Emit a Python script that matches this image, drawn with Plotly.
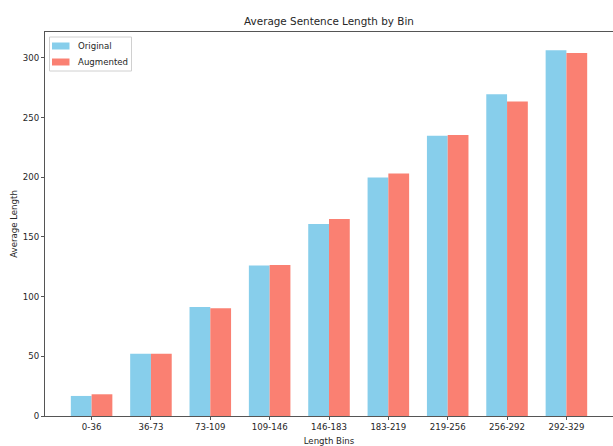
import plotly.graph_objects as go

bins = ["0-36", "36-73", "73-109", "109-146", "146-183", "183-219", "219-256", "256-292", "292-329"]
original = [16.8, 52.1, 91.3, 126.0, 160.9, 199.9, 234.8, 269.6, 306.4]
augmented = [18.2, 52.1, 90.2, 126.6, 165.1, 203.2, 235.4, 263.5, 304.2]
series_names = ["Original", "Augmented"]
series_colors = ["#87CEEB", "#FA8072"]

W, H = 613, 446
ML, MR, MT, MB = 45, 0, 32, 30
PW, PH = W - ML - MR, H - MT - MB
FONT = "DejaVu Sans"
TXT = "#262626"

x_idx = list(range(len(bins)))

fig = go.Figure()
for name, vals, col in zip(series_names, [original, augmented], series_colors):
    fig.add_trace(go.Bar(x=x_idx, y=vals, name=name, marker=dict(color=col, line=dict(width=0)),
                         showlegend=False))

ymax = max(max(original), max(augmented)) * 1.05
fig.update_layout(
    width=W, height=H,
    margin=dict(l=ML, r=MR, t=MT, b=MB),
    paper_bgcolor="white", plot_bgcolor="white",
    barmode="group", bargap=0.3, bargroupgap=0,
    font=dict(family=FONT, size=8.6, color=TXT),
    title=dict(text="Average Sentence Length by Bin", x=0.5, xref="paper", xanchor="center",
               y=1 - 21 / H, yref="container", yanchor="middle",
               font=dict(family=FONT, size=10.4, color=TXT)),
    xaxis=dict(range=[-0.785, 8.785], tickmode="array", tickvals=x_idx, ticktext=bins,
               showgrid=False, zeroline=False, showline=True, linecolor="#555", linewidth=1,
               mirror=True, ticks="outside", ticklen=3, tickcolor="#555",
               tickfont=dict(family=FONT, size=8.6, color=TXT),
               title=dict(text="Length Bins", standoff=7, font=dict(family=FONT, size=8.6, color=TXT))),
    yaxis=dict(range=[0, ymax], tickmode="array", tickvals=[0, 50, 100, 150, 200, 250, 300],
               showgrid=False, zeroline=False, showline=True, linecolor="#555", linewidth=1,
               mirror=False, ticks="outside", ticklen=3, tickcolor="#555",
               tickfont=dict(family=FONT, size=8.6, color=TXT),
               title=dict(text="Average Length", standoff=3, font=dict(family=FONT, size=8.6, color=TXT))),
)

# Legend drawn in pixel-derived paper coordinates
def px(xp):
    return (xp - ML) / PW

def py(yp):
    return (H - MB - yp) / PH

fig.add_shape(type="rect", xref="paper", yref="paper",
              x0=px(49.5), x1=px(131.5), y0=py(71), y1=py(37),
              line=dict(color="#d0d0d0", width=1), fillcolor="rgba(255,255,255,0.8)", layer="above")
for i, (name, col) in enumerate(zip(series_names, series_colors)):
    yc = 46 + i * 16
    fig.add_shape(type="rect", xref="paper", yref="paper",
                  x0=px(52), x1=px(69.5), y0=py(yc + 3.5), y1=py(yc - 3.5),
                  line=dict(width=0), fillcolor=col, layer="above")
    fig.add_annotation(text=name, xref="paper", yref="paper", x=px(76), y=py(yc),
                       xanchor="left", yanchor="middle", showarrow=False,
                       font=dict(family=FONT, size=8.6, color=TXT))

fig.write_html("out.html")
